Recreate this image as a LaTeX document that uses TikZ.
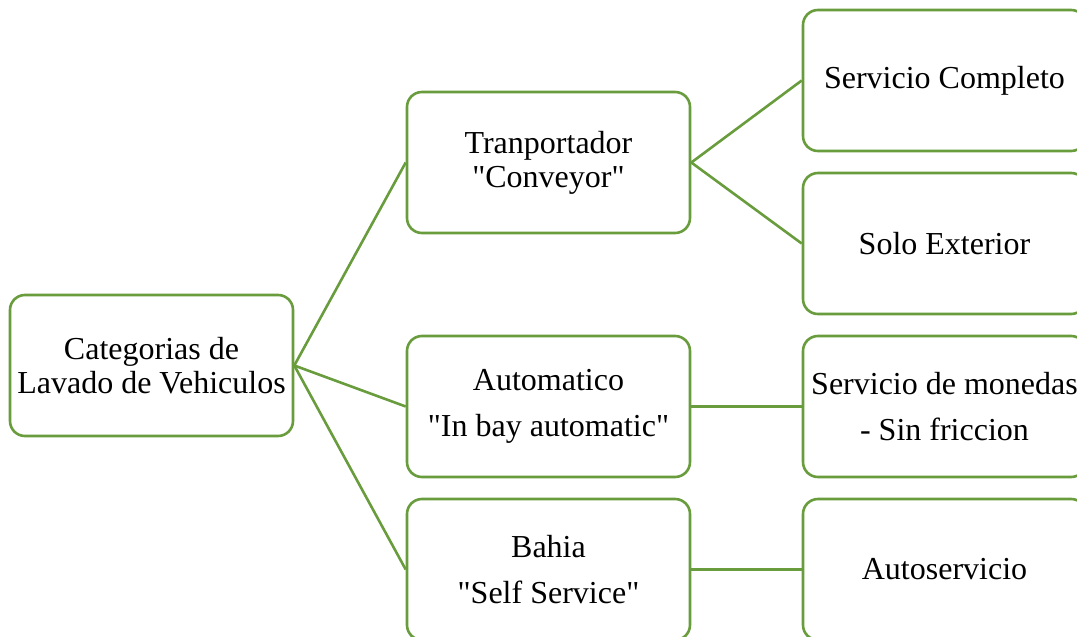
\documentclass[tikz,border=0pt]{standalone}
\usepackage{fontspec}
\setmainfont{Liberation Serif}[Ligatures=TeXOff]
\definecolor{lgreen}{RGB}{104,156,60}
\begin{document}
\begin{tikzpicture}[x=1pt,y=-1pt,
  box/.style={draw=lgreen,line width=2.6pt,rounded corners=15pt,fill=white,
    minimum width=283pt,minimum height=141pt,align=center,inner sep=0pt,
    font=\fontsize{32}{34}\selectfont},
  wide/.style={font=\fontsize{32}{46}\selectfont},
  link/.style={draw=lgreen,line width=2.6pt}]
\useasboundingbox (0,0) rectangle (1077,637);
\clip (0,0) rectangle (1077,637);
\node[box] (root) at (151.5,365.5) {Categorias de\\Lavado de Vehiculos};
\node[box] (m1) at (548.5,162.5) {Tranportador\\"Conveyor"};
\node[box,wide] (m2) at (548.5,406.5) {Automatico\\ "In bay automatic"};
\node[box,wide] (m3) at (548.5,569.5) {Bahia\\ "Self Service"};
\node[box] (r1) at (944.5,80.5) {Servicio Completo};
\node[box] (r2) at (944.5,243.5) {Solo Exterior};
\node[box,wide] (r3) at (944.5,406.5) {Servicio de monedas\\- Sin friccion};
\node[box] (r4) at (944.5,569.5) {Autoservicio};
\draw[link] (root.east) -- (m1.west);
\draw[link] (root.east) -- (m2.west);
\draw[link] (root.east) -- (m3.west);
\draw[link] (m1.east) -- (r1.west);
\draw[link] (m1.east) -- (r2.west);
\draw[link] (m2.east) -- (r3.west);
\draw[link] (m3.east) -- (r4.west);
\end{tikzpicture}
\end{document}
